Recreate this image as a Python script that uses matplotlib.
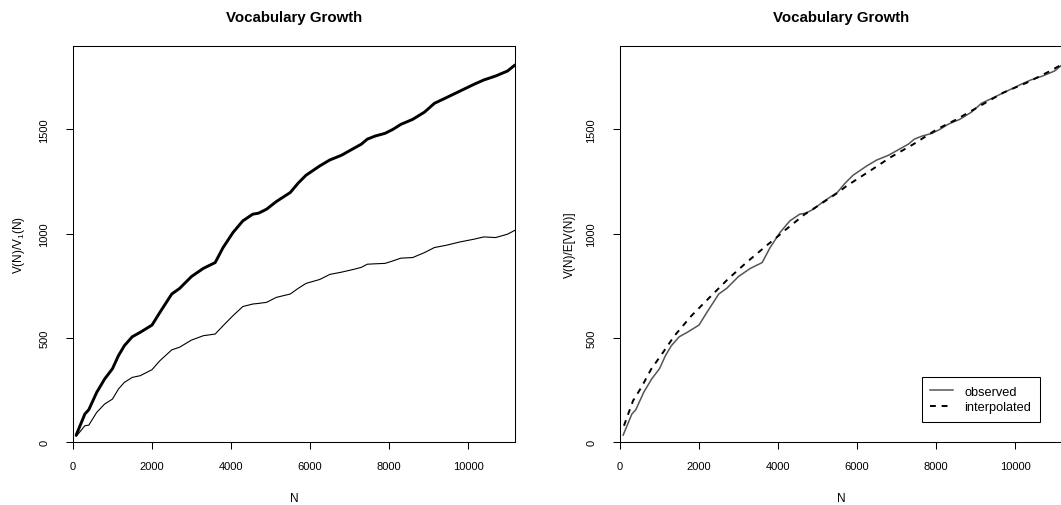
import numpy as np
import matplotlib
matplotlib.use("Agg")
import matplotlib.pyplot as plt

plt.rcParams['font.family'] = ['Liberation Sans', 'DejaVu Sans']
plt.rcParams['mathtext.default'] = 'regular'

# observed vocabulary growth
N = [80, 300, 400, 600, 800, 1000, 1150, 1300, 1500, 1700, 2000, 2200, 2500, 2700,
     3000, 3300, 3600, 3800, 4050, 4300, 4550, 4700, 4900, 5150, 5500, 5700, 5900,
     6250, 6500, 6800, 7100, 7300, 7450, 7650, 7900, 8100, 8300, 8600, 8900, 9150,
     9450, 9800, 10150, 10400, 10700, 11000, 11190]
V = [33, 134, 155, 238, 302, 352, 414, 462, 505, 526, 561, 622, 710, 737,
     794, 833, 861, 933, 1005, 1061, 1093, 1098, 1117, 1154, 1197, 1242, 1280,
     1325, 1353, 1376, 1408, 1429, 1453, 1468, 1481, 1500, 1524, 1548, 1583, 1625,
     1652, 1684, 1716, 1737, 1756, 1780, 1809]
V1 = [27, 78, 81, 142, 182, 206, 254, 286, 310, 318, 347, 390, 442, 455,
      489, 510, 518, 558, 606, 650, 662, 665, 670, 694, 710, 737, 761,
      780, 804, 815, 828, 838, 853, 855, 857, 869, 882, 885, 909, 933,
      944, 960, 973, 984, 981, 997, 1016]

# interpolated E[V(N)]
N_int = [100, 330, 540, 790, 1090, 1380, 1810, 2270, 2730, 3200, 3700, 3960, 4210,
         4680, 5010, 5520, 5740, 6330, 6840, 7430, 8020, 8520, 9110, 9700, 10300,
         10890, 11190]
EV = [78, 198, 262, 350, 430, 510, 606, 694, 781, 861, 941, 981, 1021,
      1093, 1133, 1197, 1229, 1301, 1365, 1429, 1500, 1548, 1612, 1676, 1724,
      1780, 1812]

xmax = 11190
ymax = 1900

fig = plt.figure(figsize=(10.61, 5.06), dpi=100)
ax1 = fig.add_axes([73 / 1061, 1 - 443 / 506, 442 / 1061, 396 / 506])
ax2 = fig.add_axes([620 / 1061, 1 - 443 / 506, 442 / 1061, 396 / 506])

ax1.plot(N, V, color='black', lw=2.1, solid_capstyle='round')
ax1.plot(N, V1, color='black', lw=0.8)

ax2.plot(N, V, color='#555555', lw=1.1, label='observed')
ax2.plot(N_int, EV, color='black', lw=1.4, dashes=(3, 3), label='interpolated')

for ax, ylab, lx in [(ax1, 'V(N)/V$_1$(N)', -0.105), (ax2, 'V(N)/E[V(N)]', -0.099)]:
    ax.set_xlim(0, xmax)
    ax.set_ylim(0, ymax)
    ax.set_xticks([0, 2000, 4000, 6000, 8000, 10000])
    ax.set_yticks([0, 500, 1000, 1500])
    ax.tick_params(length=5, width=0.75, labelsize=8, color='black')
    ax.tick_params(axis='x', pad=9)
    ax.tick_params(axis='y', pad=12, labelrotation=90)
    for lbl in ax.get_yticklabels():
        lbl.set_va('center')
    for s in ax.spines.values():
        s.set_linewidth(0.75)
    ax.set_title('Vocabulary Growth', fontsize=10.8, fontweight='bold', y=1.062, pad=0)
    ax.set_xlabel('N', fontsize=8.5)
    ax.xaxis.set_label_coords(0.5, -0.126)
    ax.set_ylabel(ylab, fontsize=8.5)
    ax.yaxis.set_label_coords(lx, 0.5)

leg = ax2.legend(loc='lower right', bbox_to_anchor=(0.95, 0.0505), fontsize=9.2,
                 fancybox=False, framealpha=1, edgecolor='black',
                 handlelength=1.8, handletextpad=0.83, borderpad=0.7,
                 labelspacing=0.25, borderaxespad=0)
leg.get_frame().set_linewidth(0.75)

fig.savefig('out.png', dpi=100)
